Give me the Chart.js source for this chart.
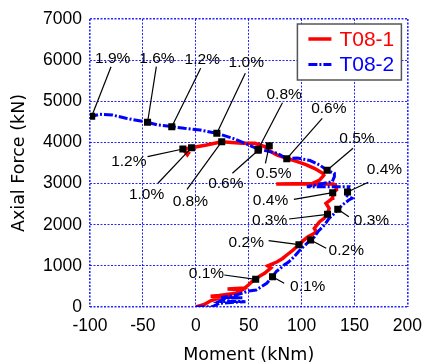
<!DOCTYPE html>
<html>
<head>
<meta charset="utf-8">
<script src="https://cdn.jsdelivr.net/npm/chart.js@4.4.1/dist/chart.umd.min.js"></script>
<style>
  html, body { margin: 0; padding: 0; background: #ffffff; }
  #wrap { width: 431px; height: 364px; }
</style>
</head>
<body>
<div id="wrap"><canvas id="c" width="431" height="364"></canvas></div>
<script>
// ---------------- data ----------------
const seriesNames = ['T08-1', 'T08-2'];

// T08-1 (red) hysteresis path: moment (kNm) and axial force (kN)
const t081Moment = [0, 8, 14, 20, 34, 14, 22, 38, 44, 30, 46, 50, 53, 56.6, 61, 65, 71, 68, 77, 82, 86, 92, 97.5, 101, 106, 110, 114, 112, 117, 121, 124.5, 126, 123, 127, 129, 129.4, 133, 132, 130, 76, 110, 117, 121, 120, 112, 104, 96, 86, 77, 72, 65, 56, 44, 34, 24.5, 10, -4, -12, -8, -6];
const t081Axial  = [0, 60, 150, 200, 255, 262, 280, 335, 420, 440, 460, 540, 615, 673, 760, 820, 950, 1000, 1100, 1180, 1264, 1385, 1514, 1600, 1709, 1760, 1830, 1912, 2074, 2150, 2253, 2400, 2520, 2600, 2642, 2779, 2850, 2960, 2990, 2990, 3000, 3087, 3200, 3250, 3371, 3460, 3532, 3614, 3694, 3760, 3897, 3980, 3980, 4000, 4018, 3938, 3872, 3833, 3700, 3780];

// T08-2 (blue) hysteresis path
const t082Moment = [0, 16, 22, 47, 22, 28, 44, 24, 38, 50, 57, 62, 67, 72.5, 76, 80, 83.5, 88, 93, 97, 100, 108.5, 112, 116, 121.7, 126, 130, 134, 138.5, 144.7, 147.7, 143, 143.4, 144.7, 105, 129, 131, 131, 124, 117, 108, 96, 86, 77, 59, 50, 35, 20, 4, -11, -22, -36, -45.6, -66, -79, -91, -98.4];
const t082Axial  = [0, 10, 90, 130, 135, 210, 226, 232, 290, 390, 413, 493, 575, 737, 860, 940, 1020, 1100, 1223, 1344, 1425, 1629, 1700, 1850, 1993, 2156, 2250, 2358, 2480, 2600, 2642, 2700, 2795, 2925, 2925, 3047, 3168, 3250, 3323, 3452, 3560, 3620, 3605, 3735, 3840, 3938, 4100, 4222, 4302, 4343, 4383, 4424, 4490, 4587, 4667, 4684, 4635];

// drift-ratio markers
const t081Drift      = ['0.1%', '0.2%', '0.3%', '0.4%', '0.5%', '0.6%', '0.8%', '1.0%', '1.2%'];
const t081DriftMoment = [56.6, 97.5, 124.5, 129.4, 69.4, 59, 24.5, -4, -12.2];
const t081DriftAxial  = [673, 1514, 2253, 2779, 3921, 3810, 4018, 3872, 3840];

const t082Drift      = ['0.1%', '0.2%', '0.3%', '0.4%', '0.5%', '0.6%', '0.8%', '1.0%', '1.2%', '1.6%', '1.9%'];
const t082DriftMoment = [72.5, 108.5, 134.2, 143.4, 124.1, 86, 59, 19.9, -22.7, -45.6, -98.4];
const t082DriftAxial  = [737, 1629, 2375, 2795, 3323, 3605, 3835, 4222, 4383, 4490, 4635];

// axis ticks
const xTicks = [-100, -50, 0, 50, 100, 150, 200];
const yTicks = [0, 1000, 2000, 3000, 4000, 5000, 6000, 7000];

// ---------------- label placement (annotation layout, in axis units) ----------------
// [textX, textY, leaderStartX, leaderStartY]
const t081LabelPlace = [
  [10.1, 819, 26.9, 778], [47.7, 1563, 68.8, 1612], [69.7, 2098, 88.1, 2139],
  [70.6, 2584, 92.7, 2618], [73.7, 3250, 65.8, 3493], [28.4, 3007, 34.6, 3250],
  [-5.2, 2560, -8.3, 2861], [-46.5, 2739, -35.8, 3007], [-63.3, 3532, -45.6, 3653]
];
const t082LabelPlace = [
  [105.8, 493, 83.5, 576], [142.2, 1361, 123.2, 1427], [166, 2098, 144.7, 2195],
  [178.3, 3330, 163, 3031], [152.3, 4101, 148.6, 3858], [125.7, 4830, 119.5, 4587],
  [83.5, 5153, 81.9, 4966], [47.7, 5931, 46.8, 5681], [6.1, 6021, 4.6, 5802],
  [-36.7, 6045, -37.3, 5841], [-78.6, 6045, -80.1, 5841]
];

// ---------------- build ----------------
const toPts = (xs, ys) => xs.map((x, i) => ({ x: x, y: ys[i] }));
const RED = '#ff0000';
const BLUE = '#0000ff';
const BLUE_DASH = [9, 2, 2, 2];

const annotations = [];
t081Drift.forEach((t, i) => annotations.push({ text: t, mx: t081DriftMoment[i], my: t081DriftAxial[i], p: t081LabelPlace[i] }));
t082Drift.forEach((t, i) => annotations.push({ text: t, mx: t082DriftMoment[i], my: t082DriftAxial[i], p: t082LabelPlace[i] }));

const driftLabelPlugin = {
  id: 'driftLabels',
  afterDatasetsDraw(chart) {
    const { ctx, scales: { x, y } } = chart;
    ctx.save();
    ctx.strokeStyle = '#000';
    ctx.lineWidth = 1.2;
    ctx.fillStyle = '#000';
    ctx.font = '15.5px "Liberation Sans", Arial, sans-serif';
    ctx.textAlign = 'center';
    ctx.textBaseline = 'middle';
    annotations.forEach(a => {
      ctx.beginPath();
      ctx.moveTo(x.getPixelForValue(a.p[2]), y.getPixelForValue(a.p[3]));
      ctx.lineTo(x.getPixelForValue(a.mx), y.getPixelForValue(a.my));
      ctx.stroke();
    });
    annotations.forEach(a => {
      ctx.fillText(a.text, x.getPixelForValue(a.p[0]), y.getPixelForValue(a.p[1]));
    });
    ctx.restore();
  }
};

const boxLegendPlugin = {
  id: 'boxLegend',
  afterDraw(chart) {
    const { ctx, chartArea } = chart;
    const w = 104, h = 56;
    const left = chartArea.right - 6 - w;
    const top = chartArea.top + 5;
    ctx.save();
    ctx.fillStyle = '#ffffff';
    ctx.fillRect(left, top, w, h);
    ctx.strokeStyle = '#555555';
    ctx.lineWidth = 1.5;
    ctx.strokeRect(left, top, w, h);
    const rows = [
      { name: chart.data.datasets[0].label, color: RED, dash: [], lw: 3.5, cy: top + 15 },
      { name: chart.data.datasets[1].label, color: BLUE, dash: BLUE_DASH, lw: 3, cy: top + 40.5 }
    ];
    ctx.font = '21px "Liberation Sans", Arial, sans-serif';
    ctx.textBaseline = 'middle';
    ctx.textAlign = 'left';
    rows.forEach(r => {
      ctx.beginPath();
      ctx.setLineDash(r.dash);
      ctx.strokeStyle = r.color;
      ctx.lineWidth = r.lw;
      ctx.moveTo(left + 11, r.cy);
      ctx.lineTo(left + 34, r.cy);
      ctx.stroke();
      ctx.setLineDash([]);
      ctx.fillStyle = r.color;
      ctx.fillText(r.name, left + 42, r.cy + 1);
    });
    ctx.restore();
  }
};

const gridColor = 'rgba(0,0,255,0.85)';
const edgeWidth = (ctx, n) => (ctx.index === 0 || ctx.index === n - 1) ? 1.6 : 1;
const plainNum = v => String(v);

new Chart(document.getElementById('c'), {
  type: 'scatter',
  data: {
    datasets: [
      { label: seriesNames[0], data: toPts(t081Moment, t081Axial), showLine: true, borderColor: RED, backgroundColor: RED,
        borderWidth: 3.5, pointRadius: 0, tension: 0, order: 2 },
      { label: seriesNames[1], data: toPts(t082Moment, t082Axial), showLine: true, borderColor: BLUE, backgroundColor: BLUE,
        borderWidth: 3, borderDash: BLUE_DASH, pointRadius: 0, tension: 0, order: 1 },
      { label: 'T08-1 drift', data: toPts(t081DriftMoment, t081DriftAxial), showLine: false, pointStyle: 'rect',
        pointRadius: 5, backgroundColor: '#000', borderColor: '#000', borderWidth: 0, order: 0 },
      { label: 'T08-2 drift', data: toPts(t082DriftMoment, t082DriftAxial), showLine: false, pointStyle: 'rect',
        pointRadius: 5, backgroundColor: '#000', borderColor: '#000', borderWidth: 0, order: 0 }
    ]
  },
  options: {
    responsive: false,
    devicePixelRatio: 1,
    animation: false,
    events: [],
    layout: { padding: { top: 19, right: 14, left: 0, bottom: 0 } },
    plugins: { legend: { display: false }, tooltip: { enabled: false } },
    scales: {
      x: {
        type: 'linear', min: xTicks[0], max: xTicks[xTicks.length - 1],
        afterBuildTicks: s => { s.ticks = xTicks.map(v => ({ value: v })); },
        afterFit: s => { s.height = 57; },
        grid: { color: gridColor, lineWidth: c => edgeWidth(c, xTicks.length), drawTicks: false },
        border: { display: false, dash: [2, 1.5] },
        ticks: { color: '#000', padding: 9, callback: plainNum, font: { family: '"Liberation Sans", Arial, sans-serif', size: 17.5 } },
        title: { display: true, text: 'Moment (kNm)', color: '#000', padding: { top: 0, bottom: 0 },
                 font: { family: '"DejaVu Sans", sans-serif', size: 17.5, lineHeight: 1 } }
      },
      y: {
        type: 'linear', min: yTicks[0], max: yTicks[yTicks.length - 1],
        afterBuildTicks: s => { s.ticks = yTicks.map(v => ({ value: v })); },
        afterFit: s => { s.width = 90; },
        grid: { color: gridColor, lineWidth: c => edgeWidth(c, yTicks.length), drawTicks: false },
        border: { display: false, dash: [2, 1.5] },
        ticks: { color: '#000', padding: 8, callback: plainNum, font: { family: '"Liberation Sans", Arial, sans-serif', size: 17.5 } },
        title: { display: true, text: 'Axial Force (kN)', color: '#000', padding: { top: 11, bottom: 0 },
                 font: { family: '"DejaVu Sans", sans-serif', size: 17.5, lineHeight: 1 } }
      }
    }
  },
  plugins: [driftLabelPlugin, boxLegendPlugin]
});
</script>
</body>
</html>
